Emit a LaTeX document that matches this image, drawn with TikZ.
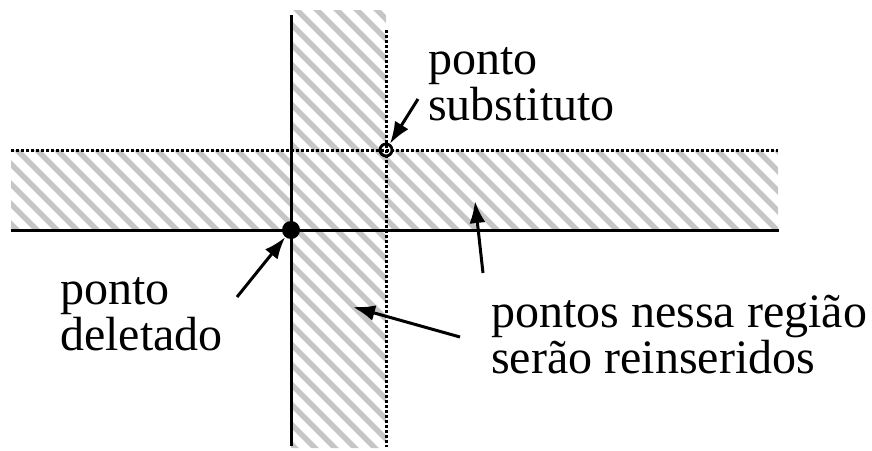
\documentclass[tikz,border=0pt]{standalone}
\usepackage{fontspec}
\setmainfont{Liberation Serif}
\usetikzlibrary{arrows.meta}
\begin{document}
\begin{tikzpicture}[x=1pt,y=-1pt,
  solidline/.style={line width=3pt},
  dotline/.style={line width=3pt,dash pattern=on 3pt off 2pt},
  pointer/.style={line width=3pt,-{Latex[length=22pt,width=16pt]}},
  txt/.style={anchor=base west,inner sep=0pt,align=left,font=\fontsize{48}{46}\selectfont}]
\useasboundingbox (0,0) rectangle (872,450);

% Hatched regions
\begin{scope}
\clip (291,10) rectangle (386,448) (11,150) rectangle (778,230);
\foreach \k in {-25,...,40}
  \draw[gray!45,line width=5.5pt] (7+20*\k,0) -- ++(460,460);
\end{scope}

% Draw lines
\draw[solidline] (11,230) -- (779,230);
\draw[solidline] (291,15) -- (291,446);
\draw[dotline] (11,150) -- (778,150);
\draw[dotline] (386,30) -- (386,447);

% Draw points
\node[circle,fill,inner sep=0pt,minimum size=18pt] (del) at (291,230) {};
\node[circle,draw,line width=2.8pt,inner sep=0pt,minimum size=12pt] (subst) at (386,150) {};

% Labels (anchored at the baseline of the last line)
\node[txt] (substtxt) at (428,120) {ponto\\substituto};
\node[txt] (deltxt) at (60,350) {ponto\\deletado};
\node[txt] (regtxt) at (491,373) {pontos nessa região\\serão reinseridos};

% Arrows
\coordinate (substtail) at (418,99);
\coordinate (deltail) at (237,297);
\coordinate (vtail) at (460,337);
\coordinate (vtip) at (353,307);
\coordinate (htail) at (483,273);
\coordinate (htip) at (475,201);
\draw[pointer] (substtail) -- (subst);
\draw[pointer] (deltail) -- (del);
\draw[pointer] (vtail) -- (vtip);
\draw[pointer] (htail) -- (htip);
\end{tikzpicture}
\end{document}
